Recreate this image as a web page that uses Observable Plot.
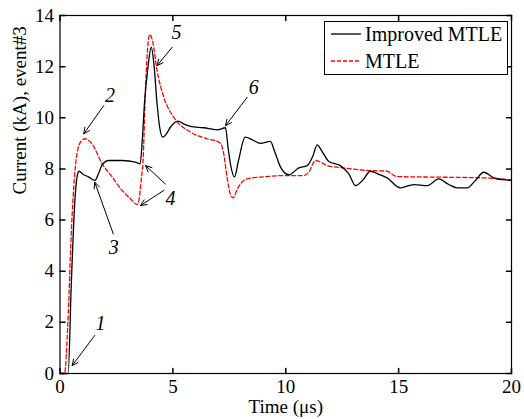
<!DOCTYPE html>
<html>
<head>
<meta charset="utf-8">
<script src="https://cdn.jsdelivr.net/npm/d3@7"></script>
<script src="https://cdn.jsdelivr.net/npm/@observablehq/plot@0.6"></script>
<style>
  html, body { margin: 0; padding: 0; background: #fff; }
  #wrap { position: relative; width: 524px; height: 419px; font-family: "Liberation Serif", "Times New Roman", serif; }
  #legend { position: absolute; left: 324px; top: 21px; width: 184px; height: 54px; border: 1px solid #000; background: #fff; box-sizing: border-box; font-size: 20px; }
  .row { position: absolute; left: 6px; height: 24px; display: flex; align-items: center; }
  .row svg { margin-right: 4px; }
</style>
</head>
<body>
<div id="wrap">
  <div id="chart"></div>
  <div id="legend">
    <div class="row" style="top:0px"><svg width="30" height="4"><line x1="0" x2="30" y1="2" y2="2" stroke="#000" stroke-width="1.3"/></svg><span>Improved MTLE</span></div>
    <div class="row" style="top:27px"><svg width="30" height="4"><line x1="0" x2="30" y1="2" y2="2" stroke="#ff0000" stroke-width="1.3" stroke-dasharray="4,2"/></svg><span>MTLE</span></div>
  </div>
</div>
<script>
// Series names
const seriesNames = ["Improved MTLE", "MTLE"];

// Improved MTLE (black)
const improvedT = [0, 0.36, 0.5, 0.66, 0.78, 0.85, 1.0, 1.28, 1.54, 1.7, 1.87, 2.16, 2.75, 3.34, 3.55, 3.65, 3.74, 3.9, 4.04, 4.16, 4.3, 4.42, 4.55, 4.7, 4.89, 5.23, 5.5, 5.78, 6.37, 6.96, 7.33, 7.45, 7.55, 7.73, 7.9, 8.2, 8.5, 8.88, 9.32, 9.5, 9.77, 10.14, 10.58, 10.95, 11.2, 11.39, 11.6, 11.91, 12.42, 12.8, 13.09, 13.4, 13.75, 14.1, 14.49, 15.08, 15.67, 16.27, 16.78, 17.2, 17.6, 18.04, 18.4, 18.77, 19.22, 19.6, 20];
const improvedI = [0, 0, 3.5, 6.77, 7.8, 7.91, 7.8, 7.68, 7.55, 7.8, 8.17, 8.33, 8.33, 8.27, 8.2, 9.2, 10.55, 12.0, 12.76, 12.1, 10.55, 9.6, 9.24, 9.35, 9.63, 9.87, 9.75, 9.66, 9.61, 9.53, 9.61, 8.8, 8.2, 7.68, 8.3, 9.24, 9.15, 9.0, 9.08, 8.7, 8.07, 7.77, 8.04, 8.13, 8.5, 8.94, 8.7, 8.29, 8.13, 7.8, 7.35, 7.55, 7.91, 7.8, 7.65, 7.26, 7.39, 7.35, 7.61, 7.4, 7.26, 7.26, 7.55, 7.87, 7.65, 7.58, 7.55];

// MTLE (red dashed)
const mtleT = [0, 0.2, 0.35, 0.5, 0.65, 0.8, 0.95, 1.1, 1.4, 1.87, 2.3, 2.75, 3.1, 3.42, 3.5, 3.6, 3.68, 3.79, 3.9, 3.98, 4.1, 4.3, 4.6, 5.04, 5.78, 6.52, 7.03, 7.15, 7.25, 7.4, 7.55, 7.67, 7.85, 8.14, 8.5, 8.88, 9.92, 10.8, 11.0, 11.32, 11.84, 12.57, 13.6, 14.49, 14.7, 14.94, 16.56, 18.77, 20];
const mtleI = [0, 0, 2.0, 5.5, 7.8, 8.8, 9.1, 9.18, 9.0, 8.2, 7.7, 7.16, 6.85, 6.61, 6.8, 7.6, 8.33, 11.2, 12.9, 13.26, 13.0, 11.85, 10.8, 10.02, 9.44, 9.18, 9.05, 8.95, 8.6, 7.68, 7.0, 6.87, 7.2, 7.55, 7.65, 7.68, 7.74, 7.74, 7.85, 8.33, 8.13, 8.04, 7.94, 7.91, 7.8, 7.7, 7.68, 7.65, 7.57];

// Axis ticks and titles
const xTicks = [0, 5, 10, 15, 20];
const yTicks = [0, 2, 4, 6, 8, 10, 12, 14];
const xTitle = "Time (μs)";
const yTitle = "Current (kA), event#3";

// Annotations (data coordinates)
const noteLabels = ["1", "2", "3", "4", "5", "6"];
const noteT = [1.79, 2.21, 2.38, 4.9, 5.16, 8.58];
const noteI = [1.96, 10.87, 4.93, 6.83, 13.35, 11.2];
// Arrows: tail (t1,i1) -> tip (t2,i2)
const arrowT1 = [1.54, 1.94, 2.36, 4.67, 4.6, 4.97, 8.29];
const arrowI1 = [1.49, 10.48, 5.46, 7.41, 7.16, 12.76, 10.8];
const arrowT2 = [0.54, 1.05, 1.54, 3.79, 3.57, 4.3, 7.33];
const arrowI2 = [0.31, 9.37, 7.48, 8.13, 6.57, 12.04, 9.69];

const black = improvedT.map((t, i) => ({t, v: improvedI[i], s: seriesNames[0]}));
const red = mtleT.map((t, i) => ({t, v: mtleI[i], s: seriesNames[1]}));
const notes = noteLabels.map((l, i) => ({l, t: noteT[i], v: noteI[i]}));
const arrows = arrowT1.map((t, i) => ({t1: t, i1: arrowI1[i], t2: arrowT2[i], i2: arrowI2[i]}));

const tickShape = {draw(context, l) { context.moveTo(0, 0); context.lineTo(0, -l); }};

const chart = Plot.plot({
  width: 524,
  height: 419,
  marginLeft: 59.5,
  marginRight: 13,
  marginTop: 15,
  marginBottom: 46,
  style: {fontFamily: "'Liberation Serif', 'Times New Roman', serif", fontSize: "18px", color: "#000", background: "#fff", overflow: "visible"},
  x: {domain: [0, 20]},
  y: {domain: [0, 14]},
  marks: [
    Plot.axisX({ticks: xTicks, tickSize: 0, tickPadding: 6, label: null, fontSize: 19}),
    Plot.axisY({ticks: yTicks, tickSize: 0, tickPadding: 6, label: null, fontSize: 19}),
    Plot.text([xTitle], {frameAnchor: "bottom", text: d => d, dy: 26, fontSize: 19, lineAnchor: "top"}),
    Plot.text([yTitle], {frameAnchor: "left", text: d => d, dx: -40, rotate: -90, fontSize: 19}),
    Plot.vector(xTicks, {x: d => d, frameAnchor: "bottom", length: 5, rotate: 0, anchor: "start", shape: tickShape, stroke: "#000"}),
    Plot.vector(xTicks, {x: d => d, frameAnchor: "top", length: 5, rotate: 180, anchor: "start", shape: tickShape, stroke: "#000"}),
    Plot.vector(yTicks, {y: d => d, frameAnchor: "left", length: 5, rotate: 90, anchor: "start", shape: tickShape, stroke: "#000"}),
    Plot.vector(yTicks, {y: d => d, frameAnchor: "right", length: 5, rotate: -90, anchor: "start", shape: tickShape, stroke: "#000"}),
    Plot.line(red, {x: "t", y: "v", stroke: "#ff0000", strokeWidth: 1.3, strokeDasharray: "4,2.5", curve: "monotone-x"}),
    Plot.line(black, {x: "t", y: "v", stroke: "#000", strokeWidth: 1.3, curve: "monotone-x"}),
    Plot.arrow(arrows, {x1: "t1", y1: "i1", x2: "t2", y2: "i2", stroke: "#000", strokeWidth: 1, headLength: 10, headAngle: 50, bend: 0}),
    Plot.text(notes, {x: "t", y: "v", text: "l", fontSize: 20, fontStyle: "italic", fill: "#000"}),
    Plot.frame({stroke: "#000", strokeWidth: 1.2})
  ]
});
document.getElementById("chart").appendChild(chart);
</script>
</body>
</html>
